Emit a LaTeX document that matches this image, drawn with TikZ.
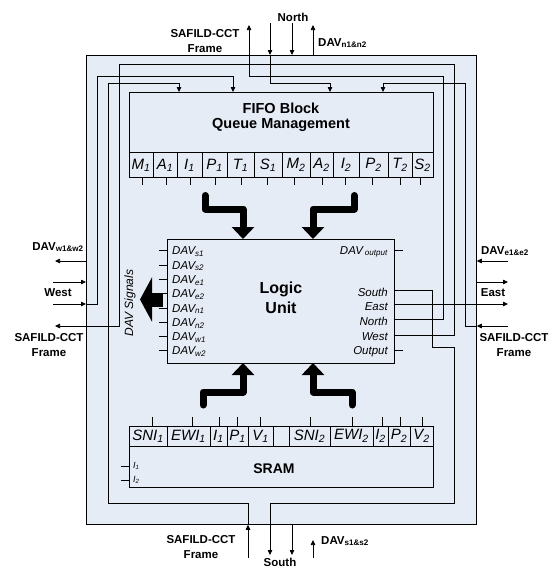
\documentclass[tikz,border=0pt]{standalone}
\usepackage{fontspec}
\setmainfont{Liberation Sans}
\usetikzlibrary{arrows.meta}
\definecolor{bgblue}{RGB}{230,236,246}
\begin{document}
\begin{tikzpicture}[x=1pt,y=-1pt,
  wire/.style={draw=black,line width=0.75pt},
  arr/.style={wire,-{Triangle[length=5pt,width=4.5pt]}},
  bigarrow/.style={draw=black,line width=7pt,line cap=round,line join=round,-{Triangle[length=12pt,width=22pt]}},
  boxstyle/.style={draw=black,line width=0.75pt,fill=bgblue,inner sep=0pt,anchor=north west},
  lbl/.style={font=\fontsize{11.5}{15.5}\selectfont\bfseries,align=center,inner sep=0pt},
  celltxt/.style={font=\fontsize{15}{18}\selectfont\itshape,inner sep=0pt},
  lutxt/.style={font=\fontsize{11.5}{13}\selectfont\itshape,inner sep=0pt},
  smalltxt/.style={font=\fontsize{9}{10}\selectfont\itshape,inner sep=0pt}
]
\useasboundingbox (0,0) rectangle (550,570);

% outer frame
\node[boxstyle,minimum width=390pt,minimum height=469pt] (outer) at (86,55) {};

% FIFO block
\node[boxstyle,minimum width=304pt,minimum height=85pt] (fifo) at (129,92) {};
\node[font=\fontsize{14.5}{15}\selectfont\bfseries,align=center] (fifotxt) at (281,117) {FIFO Block\\Queue Management};
\foreach \a/\b/\l/\s/\t [count=\i] in {129/153/M/1/142,153/177/A/1/166,177/202/I/1/190,202/227/P/1/215,227/254/T/1/241,254/282/S/1/267,282/310/M/2/294,310/333/A/2/322,333/359/I/2/345,359/388/P/2/372,388/412/T/2/400,412/433/S/2/420}{
  \draw[wire,fill=bgblue] (\a,152) rectangle (\b,177);
  \node[celltxt] (fc\i) at ({(\a+\b)/2},165) {\l\textsubscript{\s}};
  \draw[wire] (\t,177) -- (\t,185);
}

% Logic unit
\node[boxstyle,minimum width=227pt,minimum height=124pt] (logic) at (167,239) {};
\node[font=\fontsize{16}{20}\selectfont\bfseries,align=center] (logictxt) at (281,298) {Logic\\Unit};
\foreach \s [count=\i from 0] in {s1,s2,e1,e2,n1,n2,w1,w2}{
  \pgfmathsetmacro\yy{250.7+14.3*\i}
  \node[lutxt,anchor=base west] (dl\i) at (172,\yy+4.1) {DAV\textsubscript{\s}};
  \draw[wire] (167,\yy) -- (159,\yy);
}
\node[lutxt,anchor=base east] (dout) at (388,254.1) {DAV\,\textsubscript{output}};
\node[lutxt,anchor=base east] (lS) at (388,296.1) {South};
\node[lutxt,anchor=base east] (lE) at (388,310.6) {East};
\node[lutxt,anchor=base east] (lN) at (388,325.1) {North};
\node[lutxt,anchor=base east] (lW) at (388,340.1) {West};
\node[lutxt,anchor=base east] (lO) at (388,354.1) {Output};
\draw[wire] (394,250) -- (403,250);
\draw[wire] (394,350) -- (403,350);

% SRAM
\node[boxstyle,minimum width=304pt,minimum height=61pt] (sram) at (129,426) {};
\node[font=\fontsize{14}{16}\selectfont\bfseries] (sramtxt) at (274,469) {SRAM};
\foreach \a/\b/\l [count=\i] in {129/167/{SNI\textsubscript{1}},167/210/{EWI\textsubscript{1}},210/227/{I\textsubscript{1}},227/248/{P\textsubscript{1}},248/273/{V\textsubscript{1}},273/289/{},289/330/{SNI\textsubscript{2}},330/373/{EWI\textsubscript{2}},373/388/{I\textsubscript{2}},388/410/{P\textsubscript{2}},410/433/{V\textsubscript{2}}}{
  \draw[wire,fill=bgblue] (\a,426) rectangle (\b,446);
  \node[celltxt] (sc\i) at ({(\a+\b)/2},436) {\l};
}
\foreach \t in {152,192,219,237,260,310,352,382,400,422}{
  \draw[wire] (\t,426) -- (\t,417);
}
\node[smalltxt,anchor=west] (si1) at (133,466) {I\textsubscript{1}};
\node[smalltxt,anchor=west] (si2) at (133,480) {I\textsubscript{2}};
\draw[wire] (121,466) -- (129,466);
\draw[wire] (121,480) -- (129,480);

% thick arrows
\draw[bigarrow] (205,195.5) -- (205,209) -- (243,209) -- (243,239);
\draw[bigarrow] (354,195.5) -- (354,209) -- (313,209) -- (313,239);
\draw[bigarrow] (203,405) -- (203,392) -- (243,392) -- (243,363);
\draw[bigarrow] (352,405) -- (352,392) -- (313,392) -- (313,363);
\draw[draw=black,line width=14pt,-{Triangle[length=12pt,width=44pt]}] (163,299.5) -- (140,299.5);
\node[font=\fontsize{12}{14}\selectfont\itshape,rotate=90] (davsig) at (130,303) {DAV Signals};

% external end points
\coordinate (nOut) at (249,25);
\coordinate (nIn1) at (270,23);
\coordinate (nIn2) at (292,23);
\coordinate (nDav) at (313,25);
\coordinate (wDav) at (55,261);
\coordinate (wIn1) at (53,282);
\coordinate (wIn2) at (53,304);
\coordinate (wOut) at (55,326);
\coordinate (eDav) at (508,261);
\coordinate (eOut1) at (508,282);
\coordinate (eOut2) at (508,304);
\coordinate (eIn) at (508,326);
\coordinate (sIn) at (248,558);
\coordinate (sOut1) at (270,555);
\coordinate (sOut2) at (292,555);
\coordinate (sDav) at (313,540);
\coordinate (fin1) at (179,92);
\coordinate (fin2) at (233,92);
\coordinate (fin3) at (330,92);
\coordinate (fin4) at (383,92);

% north side
\draw[arr] (394,319) -- (443,319) -- (443,76) -- (249,76) -- (nOut);
\draw[arr] (nIn1) -- (nIn1 |- outer.north);
\draw[arr] (nIn1 |- outer.north) -- (270,83) -- (330,83) -- (fin3);
\draw[arr] (nIn2) -- (nIn2 |- outer.north);
\draw[arr] (nDav |- outer.north) -- (nDav);

% west side
\draw[arr] (wDav -| outer.west) -- (wDav);
\draw[arr] (wIn1) -- (wIn1 -| outer.west);
\draw[arr] (wIn2) -- (wIn2 -| outer.west);
\draw[arr] (wIn2 -| outer.west) -- (97,304) -- (97,76) -- (233,76) -- (fin2);
\draw[arr] (394,335) -- (454,335) -- (454,64) -- (119,64) -- (119,326) -- (wOut);

% east side
\draw[arr] (eDav) -- (eDav -| outer.east);
\draw[arr] (eOut1 -| outer.east) -- (eOut1);
\draw[arr] (394,304) -- (eOut2);
\draw[arr] (eIn) -- (eIn -| outer.east);
\draw[arr] (eIn -| outer.east) -- (465,326) -- (465,83) -- (383,83) -- (fin4);

% south side
\draw[arr] (sIn) -- (sIn |- outer.south);
\draw[arr] (sIn |- outer.south) -- (248,503) -- (108,503) -- (108,83) -- (179,83) -- (fin1);
\draw[arr] (394,290) -- (432,290) -- (432,347) -- (454,347) -- (454,503) -- (270,503) -- (sOut1);
\draw[arr] (sOut2 |- outer.south) -- (sOut2);
\draw[arr] (313,558) -- (sDav);

% outside labels
\node[lbl] (tN) at (293,17) {North};
\node[lbl] (tNF) at (205,41) {SAFILD-CCT\\Frame};
\node[lbl,anchor=west] (tND) at (318,43) {DAV\textsubscript{n1\&n2}};
\node[lbl] (tWD) at (58,247) {DAV\textsubscript{w1\&w2}};
\node[lbl] (tW) at (58,293) {West};
\node[lbl] (tWF) at (49,345) {SAFILD-CCT\\Frame};
\node[lbl] (tED) at (505,251) {DAV\textsubscript{e1\&e2}};
\node[lbl] (tE) at (493,293) {East};
\node[lbl] (tEF) at (514,345) {SAFILD-CCT\\Frame};
\node[lbl] (tSF) at (201,547) {SAFILD-CCT\\Frame};
\node[lbl] (tS) at (280,562) {South};
\node[lbl,anchor=west] (tSD) at (321,541) {DAV\textsubscript{s1\&s2}};
\end{tikzpicture}
\end{document}
